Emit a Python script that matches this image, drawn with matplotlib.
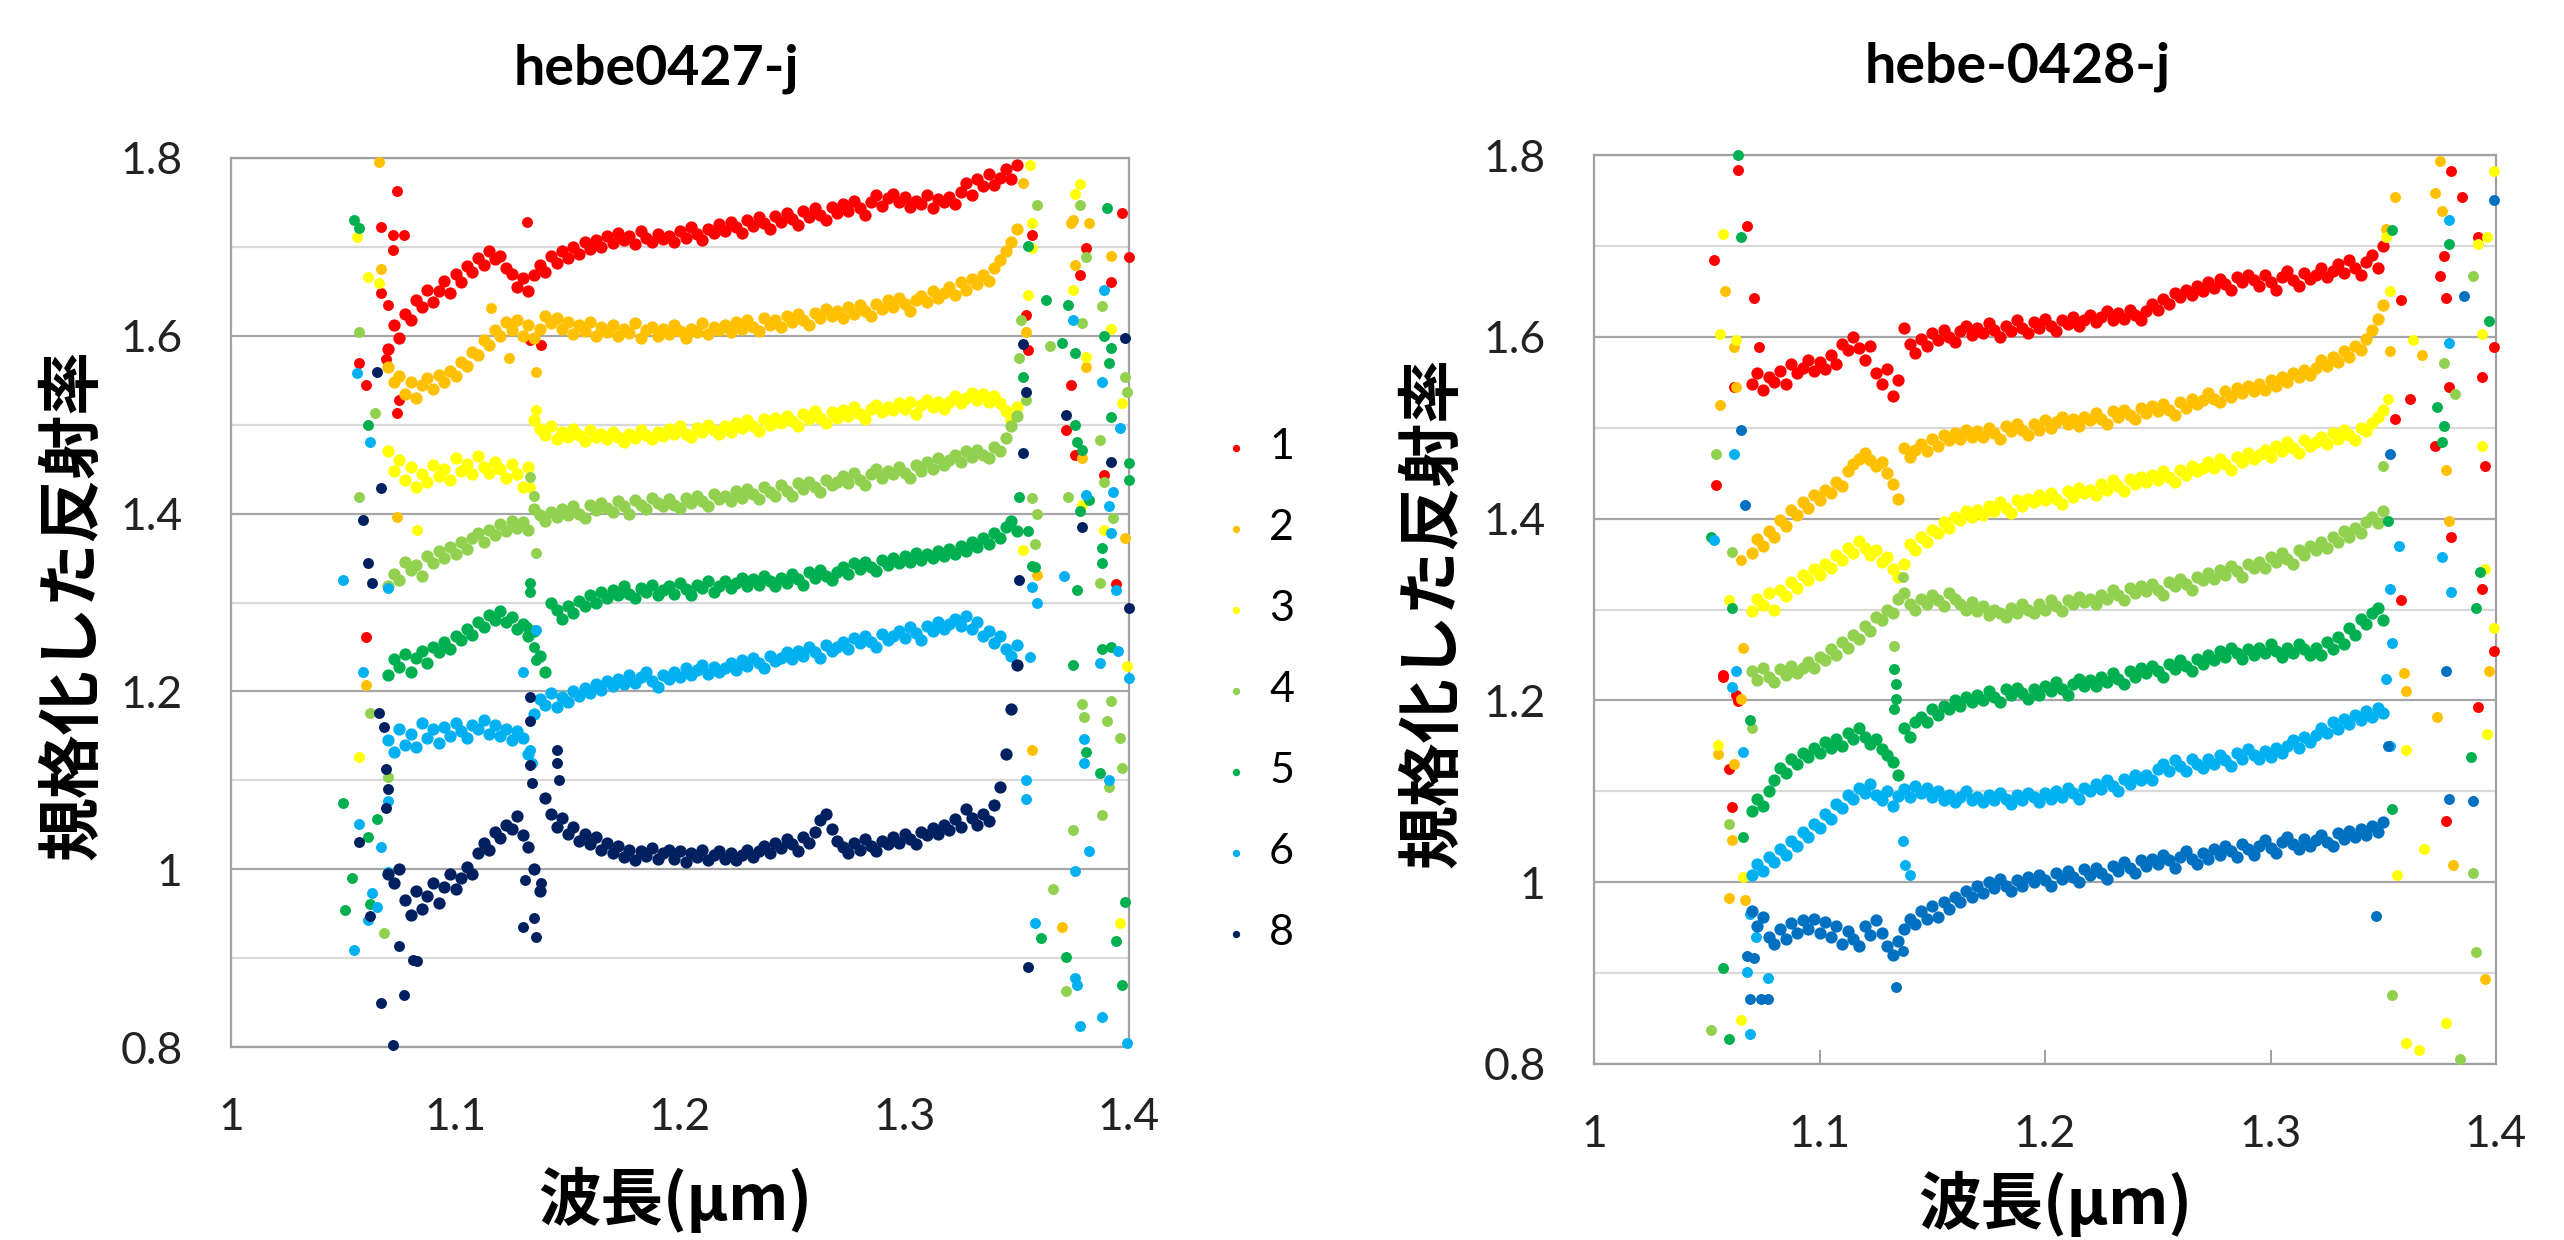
import numpy as np
import matplotlib
matplotlib.use('Agg')
import matplotlib.pyplot as plt

plt.rcParams['font.family'] = ['Lato', 'DejaVu Sans']

# 波長 (µm): 主な測定範囲
wl = np.round(np.arange(1.070, 1.3501, 0.0025), 4)

labels = ['1', '2', '3', '4', '5', '6', '8']
colors_a = ['#FF0000', '#FFC000', '#FFFF00', '#92D050', '#00B050', '#00B0F0', '#002060']
colors_b = ['#FF0000', '#FFC000', '#FFFF00', '#92D050', '#00B050', '#00B0F0', '#0070C0']

# ---------------- hebe0427-j ----------------
a1 = [1.585, 1.612, 1.598, 1.625, 1.618, 1.640, 1.632, 1.652, 1.638, 1.650,
      1.662, 1.648, 1.670, 1.660, 1.678, 1.672, 1.688, 1.680, 1.695, 1.686,
      1.690, 1.676, 1.670, 1.655, 1.665, 1.650, 1.668, 1.680, 1.672, 1.690,
      1.682, 1.695, 1.688, 1.700, 1.692, 1.705, 1.698, 1.708, 1.700, 1.712,
      1.704, 1.716, 1.708, 1.712, 1.703, 1.718, 1.710, 1.706, 1.715, 1.709,
      1.712, 1.705, 1.718, 1.710, 1.722, 1.714, 1.708, 1.720, 1.716, 1.726,
      1.718, 1.728, 1.722, 1.716, 1.730, 1.724, 1.734, 1.727, 1.720, 1.735,
      1.728, 1.738, 1.731, 1.725, 1.740, 1.734, 1.744, 1.736, 1.730, 1.745,
      1.738, 1.748, 1.740, 1.752, 1.744, 1.736, 1.750, 1.758, 1.746, 1.755,
      1.760, 1.750, 1.756, 1.745, 1.752, 1.748, 1.758, 1.744, 1.754, 1.750,
      1.756, 1.748, 1.762, 1.772, 1.758, 1.776, 1.768, 1.782, 1.770, 1.778,
      1.788, 1.776, 1.792]
a2 = [1.565, 1.548, 1.555, 1.535, 1.548, 1.530, 1.545, 1.552, 1.540, 1.556,
      1.548, 1.560, 1.555, 1.570, 1.566, 1.582, 1.578, 1.595, 1.590, 1.606,
      1.600, 1.615, 1.606, 1.618, 1.600, 1.612, 1.598, 1.608, 1.622, 1.614,
      1.620, 1.608, 1.615, 1.602, 1.612, 1.605, 1.616, 1.600, 1.610, 1.604,
      1.612, 1.600, 1.608, 1.603, 1.614, 1.598, 1.606, 1.610, 1.600, 1.608,
      1.602, 1.612, 1.605, 1.598, 1.608, 1.604, 1.614, 1.602, 1.610, 1.606,
      1.612, 1.604, 1.616, 1.608, 1.618, 1.610, 1.605, 1.620, 1.612, 1.618,
      1.610, 1.622, 1.615, 1.625, 1.618, 1.612, 1.626, 1.620, 1.630, 1.622,
      1.628, 1.620, 1.632, 1.625, 1.635, 1.628, 1.622, 1.636, 1.630, 1.640,
      1.632, 1.642, 1.636, 1.628, 1.640, 1.645, 1.638, 1.650, 1.642, 1.648,
      1.655, 1.646, 1.660, 1.652, 1.664, 1.658, 1.668, 1.662, 1.676, 1.685,
      1.695, 1.705, 1.720]
a3 = [1.470, 1.448, 1.460, 1.438, 1.452, 1.430, 1.445, 1.436, 1.455, 1.442,
      1.450, 1.438, 1.462, 1.448, 1.456, 1.444, 1.465, 1.452, 1.446, 1.458,
      1.450, 1.440, 1.456, 1.445, 1.430, 1.452, 1.505, 1.495, 1.488, 1.498,
      1.484, 1.492, 1.486, 1.495, 1.488, 1.482, 1.494, 1.486, 1.490, 1.484,
      1.492, 1.486, 1.480, 1.490, 1.485, 1.494, 1.488, 1.484, 1.492, 1.487,
      1.495, 1.489, 1.498, 1.490, 1.486, 1.496, 1.492, 1.500, 1.494, 1.489,
      1.498, 1.492, 1.502, 1.496, 1.505, 1.498, 1.493, 1.506, 1.500, 1.508,
      1.502, 1.510, 1.504, 1.498, 1.512, 1.506, 1.515, 1.508, 1.502, 1.514,
      1.508, 1.516, 1.510, 1.520, 1.512, 1.506, 1.518, 1.522, 1.514, 1.520,
      1.516, 1.524, 1.518, 1.526, 1.512, 1.522, 1.528, 1.520, 1.525, 1.518,
      1.526, 1.532, 1.524, 1.530, 1.536, 1.528, 1.534, 1.526, 1.532, 1.524,
      1.515, 1.505, 1.520]
a4 = [1.318, 1.332, 1.325, 1.345, 1.336, 1.342, 1.330, 1.352, 1.344, 1.358,
      1.350, 1.362, 1.355, 1.368, 1.360, 1.372, 1.378, 1.368, 1.382, 1.376,
      1.388, 1.380, 1.392, 1.384, 1.390, 1.382, 1.405, 1.398, 1.392, 1.402,
      1.396, 1.405, 1.398, 1.408, 1.400, 1.395, 1.410, 1.404, 1.412, 1.406,
      1.402, 1.414, 1.408, 1.400, 1.415, 1.410, 1.405, 1.418, 1.412, 1.408,
      1.416, 1.410, 1.406, 1.418, 1.412, 1.420, 1.414, 1.408, 1.422, 1.416,
      1.420, 1.414, 1.425, 1.418, 1.428, 1.422, 1.416, 1.430, 1.424, 1.420,
      1.432, 1.425, 1.420, 1.434, 1.428, 1.436, 1.430, 1.424, 1.438, 1.432,
      1.436, 1.442, 1.434, 1.446, 1.438, 1.432, 1.444, 1.450, 1.440, 1.448,
      1.444, 1.452, 1.446, 1.440, 1.455, 1.448, 1.458, 1.450, 1.462, 1.455,
      1.460, 1.466, 1.458, 1.470, 1.464, 1.472, 1.466, 1.462, 1.475, 1.470,
      1.485, 1.498, 1.510]
a5 = [1.218, 1.236, 1.228, 1.242, 1.222, 1.238, 1.246, 1.232, 1.250, 1.244,
      1.256, 1.248, 1.262, 1.258, 1.270, 1.264, 1.278, 1.272, 1.286, 1.280,
      1.290, 1.278, 1.284, 1.270, 1.276, 1.262, 1.268, 1.240, 1.222, 1.300,
      1.292, 1.282, 1.296, 1.288, 1.302, 1.296, 1.308, 1.300, 1.312, 1.305,
      1.314, 1.308, 1.318, 1.310, 1.305, 1.316, 1.312, 1.320, 1.308, 1.314,
      1.318, 1.310, 1.322, 1.315, 1.308, 1.320, 1.316, 1.324, 1.312, 1.318,
      1.324, 1.316, 1.322, 1.328, 1.318, 1.326, 1.320, 1.330, 1.324, 1.318,
      1.328, 1.322, 1.332, 1.326, 1.320, 1.334, 1.328, 1.336, 1.330, 1.325,
      1.334, 1.340, 1.332, 1.344, 1.338, 1.346, 1.340, 1.335, 1.348, 1.342,
      1.350, 1.344, 1.352, 1.346, 1.356, 1.348, 1.354, 1.350, 1.358, 1.352,
      1.360, 1.354, 1.364, 1.358, 1.368, 1.362, 1.372, 1.366, 1.378, 1.372,
      1.385, 1.392, 1.380]
a6 = [1.145, 1.132, 1.158, 1.140, 1.152, 1.138, 1.165, 1.148, 1.158, 1.142,
      1.160, 1.150, 1.165, 1.155, 1.148, 1.162, 1.158, 1.168, 1.152, 1.162,
      1.150, 1.158, 1.145, 1.155, 1.148, 1.130, 1.175, 1.192, 1.185, 1.198,
      1.182, 1.194, 1.188, 1.200, 1.195, 1.204, 1.198, 1.208, 1.202, 1.212,
      1.206, 1.214, 1.208, 1.218, 1.210, 1.216, 1.222, 1.212, 1.205, 1.218,
      1.214, 1.222, 1.216, 1.226, 1.218, 1.224, 1.230, 1.220, 1.228, 1.222,
      1.226, 1.232, 1.224, 1.235, 1.229, 1.238, 1.232, 1.226, 1.240, 1.234,
      1.238, 1.244, 1.236, 1.246, 1.240, 1.250, 1.244, 1.238, 1.252, 1.246,
      1.250, 1.256, 1.248, 1.260, 1.254, 1.262, 1.256, 1.250, 1.265, 1.258,
      1.262, 1.268, 1.260, 1.272, 1.266, 1.258, 1.274, 1.268, 1.278, 1.270,
      1.276, 1.282, 1.274, 1.285, 1.270, 1.278, 1.262, 1.268, 1.255, 1.262,
      1.248, 1.240, 1.252]
a8 = [0.995, 0.985, 1.000, 0.965, 0.948, 0.975, 0.955, 0.970, 0.985, 0.962,
      0.980, 0.995, 0.978, 0.990, 1.002, 0.995, 1.018, 1.030, 1.022, 1.042,
      1.035, 1.050, 1.045, 1.060, 1.038, 1.025, 1.000, 0.975, 1.080, 1.062,
      1.048, 1.058, 1.040, 1.048, 1.032, 1.040, 1.028, 1.036, 1.022, 1.030,
      1.018, 1.026, 1.014, 1.022, 1.010, 1.020, 1.015, 1.024, 1.012, 1.018,
      1.022, 1.012, 1.020, 1.008, 1.018, 1.014, 1.022, 1.010, 1.016, 1.020,
      1.012, 1.018, 1.010, 1.016, 1.022, 1.014, 1.020, 1.026, 1.018, 1.030,
      1.024, 1.034, 1.028, 1.020, 1.036, 1.030, 1.042, 1.055, 1.062, 1.045,
      1.032, 1.025, 1.018, 1.030, 1.022, 1.034, 1.026, 1.020, 1.032, 1.028,
      1.036, 1.030, 1.040, 1.034, 1.028, 1.042, 1.038, 1.046, 1.040, 1.050,
      1.044, 1.056, 1.048, 1.068, 1.058, 1.050, 1.062, 1.054, 1.072, 1.092,
      1.130, 1.180, 1.230]

# 範囲外の散らばった点 (x, y)
a1_ox = [1.057, 1.060, 1.067, 1.067, 1.069, 1.070, 1.072, 1.072, 1.074, 1.074, 1.075, 1.077, 1.060,
         1.132, 1.133, 1.138, 1.357, 1.354, 1.355, 1.372, 1.374, 1.376, 1.378, 1.381, 1.389, 1.392,
         1.394, 1.397, 1.400]
a1_oy = [1.569, 1.545, 1.722, 1.648, 1.574, 1.635, 1.713, 1.697, 1.763, 1.513, 1.528, 1.713, 1.261,
         1.728, 1.595, 1.590, 1.713, 1.623, 1.584, 1.494, 1.545, 1.466, 1.668, 1.699, 1.443, 1.660,
         1.321, 1.738, 1.689]
a2_ox = [1.066, 1.067, 1.074, 1.060, 1.116, 1.124, 1.136, 1.353, 1.354, 1.359, 1.357, 1.370, 1.374,
         1.375, 1.376, 1.379, 1.381, 1.382, 1.392, 1.398]
a2_oy = [1.795, 1.675, 1.396, 1.207, 1.631, 1.575, 1.559, 1.772, 1.604, 1.331, 1.134, 0.935, 1.727,
         1.730, 1.680, 1.463, 1.565, 1.727, 1.690, 1.372]
a3_ox = [1.056, 1.061, 1.066, 1.083, 1.057, 1.133, 1.136, 1.356, 1.357, 1.357, 1.355, 1.353, 1.375,
         1.376, 1.378, 1.379, 1.381, 1.389, 1.392, 1.396, 1.397, 1.399]
a3_oy = [1.711, 1.666, 1.659, 1.381, 1.126, 1.430, 1.517, 1.792, 1.727, 1.699, 1.646, 1.359, 1.652,
         1.760, 1.771, 1.410, 1.576, 1.381, 1.608, 0.939, 1.524, 1.229]
a4_ox = [1.057, 1.064, 1.057, 1.062, 1.070, 1.068, 1.133, 1.136, 1.135, 1.359, 1.352, 1.351, 1.354,
         1.357, 1.359, 1.358, 1.365, 1.366, 1.372, 1.373, 1.375, 1.378, 1.379, 1.379, 1.380, 1.381,
         1.387, 1.387, 1.388, 1.388, 1.389, 1.390, 1.391, 1.392, 1.393, 1.396, 1.397, 1.398, 1.399]
a4_oy = [1.604, 1.513, 1.419, 1.176, 1.104, 0.928, 1.441, 1.356, 1.420, 1.747, 1.618, 1.575, 1.528,
         1.417, 1.400, 1.366, 1.588, 0.978, 0.863, 1.419, 1.044, 1.747, 1.614, 1.186, 1.171, 1.689,
         1.483, 1.322, 1.633, 1.061, 1.436, 1.167, 1.092, 1.189, 1.395, 1.148, 1.114, 1.554, 1.537]
a5_ox = [1.055, 1.057, 1.061, 1.050, 1.065, 1.061, 1.054, 1.051, 1.062, 1.133, 1.133, 1.135, 1.136,
         1.132, 1.355, 1.353, 1.351, 1.355, 1.357, 1.358, 1.361, 1.363, 1.370, 1.372, 1.373, 1.375,
         1.376, 1.376, 1.377, 1.377, 1.378, 1.379, 1.381, 1.382, 1.387, 1.388, 1.388, 1.388, 1.389,
         1.390, 1.391, 1.392, 1.392, 1.392, 1.394, 1.397, 1.398, 1.400, 1.400]
a5_oy = [1.730, 1.721, 1.500, 1.074, 1.056, 1.036, 0.990, 0.954, 0.961, 1.322, 1.312, 1.250, 1.235,
         1.272, 1.701, 1.554, 1.419, 1.380, 1.341, 1.340, 0.923, 1.640, 1.592, 0.901, 1.635, 1.230,
         1.581, 1.500, 1.481, 1.314, 1.403, 1.471, 1.132, 1.415, 1.108, 1.361, 1.344, 1.248, 1.600,
         1.744, 1.569, 1.586, 1.509, 1.250, 0.919, 0.870, 0.963, 1.457, 1.438]
a6_ox = [1.056, 1.062, 1.050, 1.070, 1.059, 1.070, 1.057, 1.067, 1.070, 1.063, 1.065, 1.061, 1.055,
         1.133, 1.134, 1.136, 1.130, 1.357, 1.359, 1.356, 1.354, 1.354, 1.358, 1.371, 1.375, 1.376,
         1.376, 1.377, 1.378, 1.380, 1.380, 1.381, 1.382, 1.387, 1.388, 1.388, 1.389, 1.391, 1.391,
         1.392, 1.393, 1.394, 1.395, 1.396, 1.399, 1.400]
a6_oy = [1.558, 1.480, 1.325, 1.316, 1.222, 1.077, 1.051, 1.025, 0.997, 0.973, 0.957, 0.943, 0.909,
         1.134, 1.120, 1.269, 1.222, 1.317, 1.300, 1.239, 1.100, 1.079, 0.939, 1.330, 1.618, 0.998,
         0.878, 0.870, 0.824, 1.146, 1.120, 1.421, 1.020, 1.232, 1.548, 0.834, 1.652, 1.408, 1.100,
         1.378, 1.424, 1.314, 1.245, 1.496, 0.804, 1.215]
a8_ox = [1.065, 1.067, 1.059, 1.061, 1.063, 1.066, 1.068, 1.069, 1.070, 1.069, 1.057, 1.062, 1.067,
         1.077, 1.072, 1.081, 1.083, 1.075, 1.130, 1.135, 1.136, 1.138, 1.131, 1.145, 1.145, 1.146,
         1.133, 1.133, 1.133, 1.134, 1.353, 1.354, 1.353, 1.351, 1.355, 1.372, 1.379, 1.392, 1.398,
         1.400]
a8_oy = [1.559, 1.429, 1.393, 1.344, 1.322, 1.176, 1.160, 1.113, 1.090, 1.069, 1.031, 0.947, 0.850,
         0.858, 0.802, 0.898, 0.897, 0.914, 0.935, 0.945, 0.924, 0.984, 0.988, 1.134, 1.120, 1.100,
         1.194, 1.167, 1.117, 1.097, 1.591, 1.537, 1.468, 1.325, 0.890, 1.511, 1.385, 1.458, 1.597,
         1.294]

# ---------------- hebe-0428-j ----------------
b1 = [1.548, 1.560, 1.542, 1.556, 1.550, 1.562, 1.548, 1.570, 1.560, 1.566,
      1.575, 1.562, 1.572, 1.565, 1.580, 1.570, 1.592, 1.585, 1.600, 1.588,
      1.575, 1.590, 1.560, 1.548, 1.565, 1.535, 1.552, 1.610, 1.592, 1.582,
      1.598, 1.590, 1.604, 1.596, 1.608, 1.600, 1.594, 1.606, 1.612, 1.602,
      1.610, 1.604, 1.615, 1.608, 1.600, 1.612, 1.606, 1.618, 1.610, 1.604,
      1.616, 1.610, 1.620, 1.612, 1.606, 1.618, 1.614, 1.622, 1.612, 1.618,
      1.624, 1.616, 1.622, 1.628, 1.618, 1.626, 1.620, 1.630, 1.624, 1.618,
      1.628, 1.636, 1.630, 1.642, 1.636, 1.648, 1.644, 1.652, 1.646, 1.656,
      1.650, 1.660, 1.654, 1.664, 1.658, 1.652, 1.666, 1.660, 1.668, 1.662,
      1.656, 1.668, 1.660, 1.652, 1.666, 1.672, 1.662, 1.656, 1.670, 1.664,
      1.668, 1.676, 1.666, 1.672, 1.680, 1.670, 1.684, 1.676, 1.668, 1.682,
      1.690, 1.676, 1.700]
b2 = [1.362, 1.378, 1.370, 1.386, 1.380, 1.398, 1.392, 1.410, 1.404, 1.418,
      1.412, 1.426, 1.420, 1.432, 1.428, 1.440, 1.436, 1.452, 1.460, 1.466,
      1.472, 1.465, 1.458, 1.462, 1.450, 1.438, 1.422, 1.478, 1.468, 1.476,
      1.482, 1.474, 1.488, 1.480, 1.492, 1.486, 1.494, 1.488, 1.498, 1.490,
      1.496, 1.490, 1.500, 1.494, 1.488, 1.502, 1.496, 1.504, 1.498, 1.492,
      1.504, 1.498, 1.508, 1.500, 1.506, 1.512, 1.504, 1.510, 1.502, 1.512,
      1.508, 1.516, 1.510, 1.504, 1.518, 1.512, 1.520, 1.514, 1.510, 1.522,
      1.516, 1.524, 1.518, 1.526, 1.520, 1.514, 1.528, 1.522, 1.532, 1.526,
      1.530, 1.538, 1.532, 1.528, 1.540, 1.534, 1.544, 1.538, 1.546, 1.540,
      1.548, 1.542, 1.552, 1.546, 1.556, 1.550, 1.560, 1.556, 1.564, 1.558,
      1.566, 1.574, 1.568, 1.578, 1.572, 1.584, 1.578, 1.590, 1.586, 1.598,
      1.608, 1.620, 1.635]
b3 = [1.298, 1.312, 1.305, 1.318, 1.300, 1.322, 1.315, 1.330, 1.324, 1.338,
      1.332, 1.345, 1.338, 1.350, 1.346, 1.360, 1.355, 1.368, 1.362, 1.375,
      1.368, 1.360, 1.366, 1.352, 1.358, 1.345, 1.336, 1.350, 1.372, 1.366,
      1.380, 1.374, 1.388, 1.384, 1.396, 1.390, 1.402, 1.398, 1.408, 1.402,
      1.410, 1.404, 1.414, 1.408, 1.418, 1.412, 1.406, 1.420, 1.414, 1.422,
      1.418, 1.426, 1.420, 1.428, 1.422, 1.416, 1.430, 1.424, 1.434, 1.428,
      1.432, 1.426, 1.438, 1.432, 1.442, 1.436, 1.430, 1.444, 1.438, 1.446,
      1.440, 1.448, 1.442, 1.452, 1.446, 1.440, 1.454, 1.448, 1.458, 1.452,
      1.456, 1.462, 1.456, 1.466, 1.460, 1.454, 1.468, 1.462, 1.472, 1.466,
      1.470, 1.476, 1.468, 1.480, 1.474, 1.484, 1.478, 1.472, 1.486, 1.480,
      1.484, 1.490, 1.482, 1.494, 1.488, 1.498, 1.492, 1.486, 1.500, 1.496,
      1.505, 1.512, 1.520]
b4 = [1.232, 1.222, 1.236, 1.226, 1.220, 1.234, 1.228, 1.238, 1.230, 1.236,
      1.242, 1.236, 1.248, 1.244, 1.256, 1.250, 1.264, 1.258, 1.272, 1.268,
      1.282, 1.276, 1.292, 1.288, 1.300, 1.296, 1.312, 1.318, 1.306, 1.300,
      1.312, 1.306, 1.316, 1.310, 1.304, 1.318, 1.312, 1.306, 1.300, 1.308,
      1.298, 1.304, 1.294, 1.300, 1.296, 1.292, 1.302, 1.296, 1.306, 1.300,
      1.296, 1.306, 1.300, 1.310, 1.304, 1.298, 1.310, 1.306, 1.314, 1.308,
      1.312, 1.306, 1.316, 1.312, 1.322, 1.316, 1.310, 1.324, 1.318, 1.326,
      1.320, 1.328, 1.322, 1.316, 1.330, 1.326, 1.334, 1.328, 1.322, 1.336,
      1.332, 1.340, 1.334, 1.344, 1.338, 1.348, 1.342, 1.336, 1.350, 1.346,
      1.352, 1.346, 1.358, 1.352, 1.362, 1.356, 1.350, 1.366, 1.360, 1.370,
      1.366, 1.374, 1.368, 1.380, 1.374, 1.386, 1.380, 1.390, 1.384, 1.396,
      1.402, 1.395, 1.408]
b5 = [1.078, 1.092, 1.084, 1.100, 1.112, 1.126, 1.120, 1.136, 1.130, 1.142,
      1.138, 1.148, 1.142, 1.154, 1.148, 1.158, 1.150, 1.164, 1.158, 1.170,
      1.160, 1.152, 1.158, 1.146, 1.140, 1.132, 1.118, 1.170, 1.160, 1.176,
      1.182, 1.176, 1.190, 1.184, 1.194, 1.190, 1.200, 1.194, 1.204, 1.198,
      1.206, 1.200, 1.210, 1.204, 1.198, 1.212, 1.206, 1.214, 1.208, 1.202,
      1.212, 1.206, 1.216, 1.210, 1.220, 1.212, 1.206, 1.218, 1.224, 1.216,
      1.222, 1.216, 1.226, 1.220, 1.230, 1.224, 1.218, 1.232, 1.226, 1.236,
      1.230, 1.238, 1.232, 1.226, 1.240, 1.234, 1.244, 1.238, 1.232, 1.246,
      1.240, 1.250, 1.244, 1.254, 1.248, 1.258, 1.252, 1.246, 1.256, 1.250,
      1.258, 1.252, 1.262, 1.254, 1.248, 1.258, 1.252, 1.262, 1.256, 1.250,
      1.258, 1.250, 1.264, 1.256, 1.270, 1.262, 1.280, 1.272, 1.290, 1.284,
      1.296, 1.302, 1.288]
b6 = [1.008, 1.020, 1.012, 1.028, 1.022, 1.036, 1.030, 1.045, 1.040, 1.055,
      1.050, 1.064, 1.060, 1.075, 1.070, 1.086, 1.082, 1.096, 1.092, 1.104,
      1.098, 1.108, 1.096, 1.090, 1.100, 1.084, 1.095, 1.102, 1.094, 1.106,
      1.098, 1.104, 1.094, 1.100, 1.090, 1.096, 1.088, 1.094, 1.100, 1.090,
      1.094, 1.088, 1.096, 1.090, 1.098, 1.092, 1.086, 1.096, 1.090, 1.098,
      1.094, 1.088, 1.098, 1.092, 1.100, 1.094, 1.104, 1.098, 1.092, 1.104,
      1.100, 1.108, 1.102, 1.112, 1.106, 1.100, 1.114, 1.108, 1.118, 1.112,
      1.118, 1.112, 1.124, 1.130, 1.122, 1.134, 1.128, 1.122, 1.136, 1.130,
      1.126, 1.136, 1.130, 1.140, 1.134, 1.128, 1.142, 1.136, 1.146, 1.140,
      1.136, 1.144, 1.138, 1.148, 1.142, 1.150, 1.156, 1.148, 1.160, 1.154,
      1.162, 1.170, 1.164, 1.176, 1.168, 1.180, 1.174, 1.184, 1.178, 1.188,
      1.182, 1.192, 1.186]
b8 = [0.968, 0.952, 0.962, 0.940, 0.932, 0.948, 0.938, 0.955, 0.944, 0.958,
      0.948, 0.960, 0.944, 0.956, 0.940, 0.952, 0.932, 0.946, 0.938, 0.930,
      0.952, 0.942, 0.958, 0.944, 0.930, 0.920, 0.935, 0.948, 0.960, 0.954,
      0.968, 0.960, 0.974, 0.962, 0.978, 0.970, 0.984, 0.978, 0.990, 0.984,
      0.996, 0.988, 1.000, 0.994, 1.004, 0.996, 0.990, 1.002, 0.996, 1.006,
      1.000, 1.008, 1.002, 0.996, 1.010, 1.004, 1.012, 1.006, 1.000, 1.014,
      1.008, 1.016, 1.010, 1.004, 1.018, 1.012, 1.022, 1.016, 1.010, 1.024,
      1.018, 1.026, 1.020, 1.030, 1.024, 1.016, 1.028, 1.034, 1.026, 1.020,
      1.032, 1.026, 1.036, 1.030, 1.040, 1.034, 1.028, 1.042, 1.036, 1.030,
      1.040, 1.046, 1.038, 1.032, 1.044, 1.050, 1.042, 1.036, 1.048, 1.040,
      1.046, 1.052, 1.044, 1.040, 1.054, 1.048, 1.056, 1.050, 1.058, 1.052,
      1.062, 1.055, 1.066]

b1_ox = [1.053, 1.064, 1.068, 1.071, 1.073, 1.062, 1.054, 1.057, 1.063, 1.057, 1.064, 1.060, 1.061,
         1.358, 1.355, 1.358, 1.362, 1.380, 1.385, 1.377, 1.392, 1.375, 1.378, 1.399, 1.394, 1.379,
         1.373, 1.395, 1.380, 1.394, 1.399, 1.392, 1.378]
b1_oy = [1.684, 1.783, 1.722, 1.643, 1.589, 1.545, 1.437, 1.228, 1.206, 1.226, 1.199, 1.125, 1.083,
         1.641, 1.510, 1.310, 1.532, 1.782, 1.754, 1.689, 1.710, 1.667, 1.643, 1.589, 1.556, 1.545,
         1.480, 1.458, 1.380, 1.323, 1.254, 1.193, 1.067]
b2_ox = [1.058, 1.062, 1.063, 1.056, 1.065, 1.066, 1.065, 1.055, 1.062, 1.061, 1.060, 1.067,
         1.355, 1.351, 1.353, 1.359, 1.360, 1.367, 1.375, 1.373, 1.376, 1.378, 1.379, 1.397, 1.374,
         1.381, 1.395]
b2_oy = [1.650, 1.589, 1.545, 1.525, 1.354, 1.258, 1.202, 1.141, 1.130, 1.046, 0.983, 0.980,
         1.754, 1.719, 1.584, 1.230, 1.210, 1.580, 1.793, 1.758, 1.738, 1.454, 1.397, 1.232, 1.182,
         1.019, 0.893]
b3_ox = [1.057, 1.063, 1.056, 1.060, 1.055, 1.066, 1.065, 1.351, 1.353, 1.352, 1.356, 1.360, 1.360,
         1.366, 1.363, 1.399, 1.396, 1.392, 1.394, 1.394, 1.395, 1.399, 1.396, 1.368, 1.378]
b3_oy = [1.713, 1.597, 1.603, 1.310, 1.151, 1.006, 0.848, 1.710, 1.650, 1.532, 1.008, 1.145, 0.823,
         0.815, 1.597, 1.782, 1.710, 1.702, 1.603, 1.480, 1.345, 1.280, 1.163, 1.037, 0.845]
b4_ox = [1.054, 1.061, 1.070, 1.060, 1.052, 1.133, 1.137, 1.350, 1.354, 1.390, 1.377, 1.382, 1.390,
         1.391, 1.384]
b4_oy = [1.471, 1.363, 1.170, 1.064, 0.837, 1.260, 1.336, 1.458, 0.876, 1.667, 1.571, 1.537, 1.010,
         0.923, 0.806]
b5_ox = [1.064, 1.065, 1.052, 1.061, 1.069, 1.066, 1.057, 1.060, 1.133, 1.134, 1.134, 1.133,
         1.354, 1.352, 1.354, 1.379, 1.397, 1.374, 1.377, 1.376, 1.393, 1.391, 1.389]
b5_oy = [1.800, 1.710, 1.380, 1.302, 1.178, 1.050, 0.906, 0.827, 1.235, 1.218, 1.201, 1.190,
         1.717, 1.397, 1.080, 1.702, 1.617, 1.523, 1.502, 1.484, 1.341, 1.302, 1.138]
b6_ox = [1.062, 1.053, 1.061, 1.063, 1.066, 1.069, 1.072, 1.068, 1.077, 1.069, 1.137, 1.138, 1.140,
         1.353, 1.357, 1.354, 1.351, 1.353, 1.379, 1.379, 1.376, 1.380]
b6_oy = [1.471, 1.377, 1.215, 1.232, 1.143, 0.965, 0.940, 0.901, 0.895, 0.833, 1.045, 1.019, 1.008,
         1.323, 1.370, 1.263, 1.223, 1.150, 1.728, 1.593, 1.358, 1.319]
b8_ox = [1.065, 1.067, 1.068, 1.071, 1.069, 1.074, 1.077, 1.134, 1.137, 1.353, 1.352, 1.347, 1.399,
         1.386, 1.378, 1.379, 1.390]
b8_oy = [1.497, 1.415, 0.919, 0.917, 0.871, 0.871, 0.871, 0.885, 0.924, 1.471, 1.150, 0.963, 1.750,
         1.645, 1.232, 1.091, 1.089]

panel_a = [(a1, a1_ox, a1_oy), (a2, a2_ox, a2_oy), (a3, a3_ox, a3_oy), (a4, a4_ox, a4_oy),
           (a5, a5_ox, a5_oy), (a6, a6_ox, a6_oy), (a8, a8_ox, a8_oy)]
panel_b = [(b1, b1_ox, b1_oy), (b2, b2_ox, b2_oy), (b3, b3_ox, b3_oy), (b4, b4_ox, b4_oy),
           (b5, b5_ox, b5_oy), (b6, b6_ox, b6_oy), (b8, b8_ox, b8_oy)]

W, H = 2564, 1240
fig = plt.figure(figsize=(W / 100, H / 100), dpi=100)
ax_a = fig.add_axes([231 / W, 1 - 1047 / H, 898 / W, 889 / H])
ax_b = fig.add_axes([1594 / W, 1 - 1064 / H, 902 / W, 909 / H])

cjk = ['Noto Sans CJK JP', 'DejaVu Sans']
grid_major = '#a6a6a6'
grid_minor = '#d9d9d9'
spine_col = '#a0a0a0'
dot_main = 78
dot_out = 62


def style_axes(ax, inner_ticks):
    ax.set_xlim(1.0, 1.4)
    ax.set_ylim(0.8, 1.8)
    ax.set_xticks([1.0, 1.1, 1.2, 1.3, 1.4])
    ax.set_xticklabels(['1', '1.1', '1.2', '1.3', '1.4'])
    ax.set_yticks([0.8, 1.0, 1.2, 1.4, 1.6, 1.8])
    ax.set_yticklabels(['0.8', '1', '1.2', '1.4', '1.6', '1.8'])
    ax.set_yticks([0.9, 1.1, 1.3, 1.5, 1.7], minor=True)
    ax.yaxis.grid(True, which='major', color=grid_major, lw=1.6)
    ax.yaxis.grid(True, which='minor', color=grid_minor, lw=1.6)
    ax.set_axisbelow(True)
    for sp in ax.spines.values():
        sp.set_color(spine_col)
        sp.set_linewidth(1.6)
    ax.tick_params(axis='y', which='both', length=0, pad=35, labelsize=32, labelcolor='#222222')
    if inner_ticks:
        ax.tick_params(axis='x', direction='in', length=10, width=1.4, color=spine_col,
                       pad=36, labelsize=32, labelcolor='#222222')
    else:
        ax.tick_params(axis='x', length=0, pad=36, labelsize=32, labelcolor='#222222')


for ax, data, cols in [(ax_a, panel_a, colors_a), (ax_b, panel_b, colors_b)]:
    style_axes(ax, ax is ax_b)
    for (ys, ox, oy), c, lab in zip(data, cols, labels):
        ax.scatter(ox, oy, s=dot_out, color=c, lw=0, zorder=3, clip_on=False)
        ax.scatter(wl[:len(ys)], ys, s=dot_main, color=c, lw=0, label=lab, zorder=3, clip_on=False)

leg = ax_a.legend(loc='upper left', bbox_to_anchor=(1214 / W, 1 - 428 / H),
                  bbox_transform=fig.transFigure, frameon=False, fontsize=31,
                  scatterpoints=1, markerscale=0.6, handlelength=1.0, handletextpad=0.28,
                  labelspacing=1.0, borderpad=0, borderaxespad=0)

# タイトル・軸ラベル
fig.text(656 / W, 1 - 85 / H, 'hebe0427-j', ha='center', va='baseline', fontsize=40, fontweight='bold')
fig.text(2018 / W, 1 - 83 / H, 'hebe-0428-j', ha='center', va='baseline', fontsize=40, fontweight='bold')
fig.text(675 / W, 1 - 1200 / H, '波長(μm)', ha='center', va='center', fontsize=45,
         fontweight='bold', family=cjk)
fig.text(2055 / W, 1 - 1204 / H, '波長(μm)', ha='center', va='center', fontsize=45,
         fontweight='bold', family=cjk)
fig.text(73 / W, 1 - 605 / H, '規格化した反射率', ha='center', va='center', rotation=90,
         fontsize=46, fontweight='bold', family=cjk)
fig.text(1433 / W, 1 - 613 / H, '規格化した反射率', ha='center', va='center', rotation=90,
         fontsize=46, fontweight='bold', family=cjk)

fig.savefig('out.png', dpi=100, facecolor='white')
